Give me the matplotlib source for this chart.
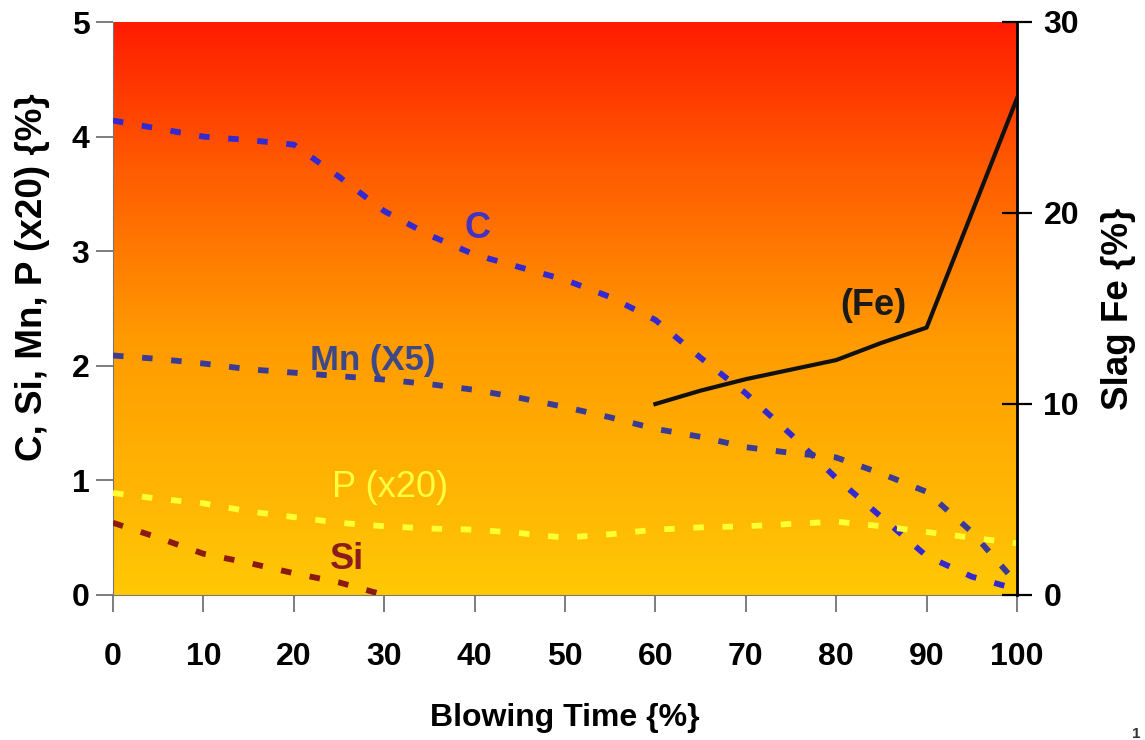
import matplotlib
matplotlib.use("Agg")
import matplotlib.pyplot as plt
import numpy as np
from matplotlib.colors import LinearSegmentedColormap

plt.rcParams["font.family"] = ["Liberation Sans", "DejaVu Sans"]
plt.rcParams["font.weight"] = "bold"
plt.rcParams["axes.labelweight"] = "bold"

# blowing time (%)
time_pts = [0, 5, 10, 15, 20, 25, 30, 35, 40, 45, 50, 55, 60, 65, 70, 75, 80, 85, 90, 95, 100]
carbon = [4.14, 4.07, 4.0, 3.97, 3.93, 3.65, 3.35, 3.14, 2.97, 2.86, 2.75, 2.6, 2.4,
          2.07, 1.76, 1.4, 1.02, 0.68, 0.34, 0.16, 0.05]
manganese_x5 = [2.09, 2.06, 2.02, 1.97, 1.94, 1.91, 1.88, 1.84, 1.79, 1.72, 1.64, 1.55,
                1.45, 1.38, 1.29, 1.24, 1.2, 1.06, 0.9, 0.55, 0.1]
phosphorus_x20 = [0.89, 0.84, 0.8, 0.73, 0.68, 0.63, 0.6, 0.58, 0.57, 0.54, 0.5, 0.53,
                  0.57, 0.59, 0.6, 0.62, 0.64, 0.6, 0.55, 0.5, 0.45]
si_time = [0, 5, 10, 15, 20, 25, 30]
silicon = [0.63, 0.5, 0.36, 0.28, 0.19, 0.11, 0.0]
fe_time = [60, 65, 70, 75, 80, 85, 90, 100]
slag_fe = [10.0, 10.7, 11.3, 11.8, 12.3, 13.2, 14.0, 26.0]

X_TICKS = list(range(0, 101, 10))
LEFT_TICKS = [0, 1, 2, 3, 4, 5]
RIGHT_TICKS = [0, 10, 20, 30]

TICK_FS = 23
TEXT_FS = 26
DASH = (1.8, 3.2)

fig = plt.figure(figsize=(11.45, 7.40), dpi=100)
ax = fig.add_axes([113 / 1145, 1 - 595 / 740, (1017 - 113) / 1145, (595 - 22) / 740])

# background gradient (red at top -> gold at bottom)
grad_cmap = LinearSegmentedColormap.from_list(
    "blow", [(0.0, "#ffc805"), (0.45, "#ff9a00"), (0.75, "#ff5a00"), (1.0, "#ff1c00")]
)
grad = np.linspace(0, 1, 256).reshape(-1, 1)
ax.imshow(grad, cmap=grad_cmap, origin="lower", extent=[0, 100, 0, 5],
          aspect="auto", zorder=0, interpolation="bicubic")

ax.plot(time_pts, carbon, color="#3428d0", lw=4.2, dashes=DASH, zorder=3)
ax.plot(time_pts, manganese_x5, color="#3b3b96", lw=4.2, dashes=DASH, zorder=3)
ax.plot(time_pts, phosphorus_x20, color="#ffff33", lw=4.2, dashes=DASH, zorder=3)
ax.plot(si_time, silicon, color="#8b1a12", lw=4.2, dashes=DASH, zorder=3)

ax.text(40.3, 3.2, "C", color="#4433c0", fontsize=TEXT_FS, ha="center", va="center")
ax.text(28.7, 2.05, "Mn (X5)", color="#3d4888", fontsize=TEXT_FS - 1, ha="center", va="center")
ax.text(30.6, 0.94, "P (x20)", color="#ffff40", fontsize=TEXT_FS, fontweight="normal",
        ha="center", va="center")
ax.text(25.9, 0.31, "Si", color="#8b1c1c", fontsize=TEXT_FS, ha="center", va="center")
ax.text(84.1, 2.53, "(Fe)", color="#1a1a1a", fontsize=TEXT_FS, ha="center", va="center")

ax.set_xlim(0, 100)
ax.set_ylim(0, 5)
ax.set_xticks(X_TICKS)
ax.set_yticks(LEFT_TICKS)
ax.tick_params(axis="x", direction="out", length=12, width=1.2, color="#666666",
               labelsize=TICK_FS, pad=22)
ax.tick_params(axis="y", direction="out", length=12, width=1.2, color="#666666",
               labelsize=TICK_FS, pad=5)
ax.set_xlabel("Blowing Time {%}", fontsize=23, labelpad=22)
ax.set_ylabel("C, Si, Mn, P (x20) {%}", fontsize=26.5)
ax.yaxis.set_label_coords(-0.07, 0.555)
for side in ["top", "right"]:
    ax.spines[side].set_visible(False)
ax.spines["left"].set_color("#777777")
ax.spines["bottom"].set_color("#777777")

ax2 = ax.twinx()
ax2.plot(fe_time, slag_fe, color="#111111", lw=3, zorder=4)
ax2.set_ylim(0, 30)
ax2.set_yticks(RIGHT_TICKS)
ax2.tick_params(axis="y", direction="inout", length=22, width=1.6, color="black",
                labelsize=TICK_FS, pad=8)
ax2.set_ylabel("Slag Fe {%}", fontsize=26.5, labelpad=16)
for side in ["top", "left", "bottom"]:
    ax2.spines[side].set_visible(False)
ax2.spines["right"].set_linewidth(2)
ax2.spines["right"].set_color("black")

fig.text(1136 / 1145, 6 / 740, "1", fontsize=11, ha="center", va="center", color="#333333")

fig.savefig("out.png", dpi=100)
